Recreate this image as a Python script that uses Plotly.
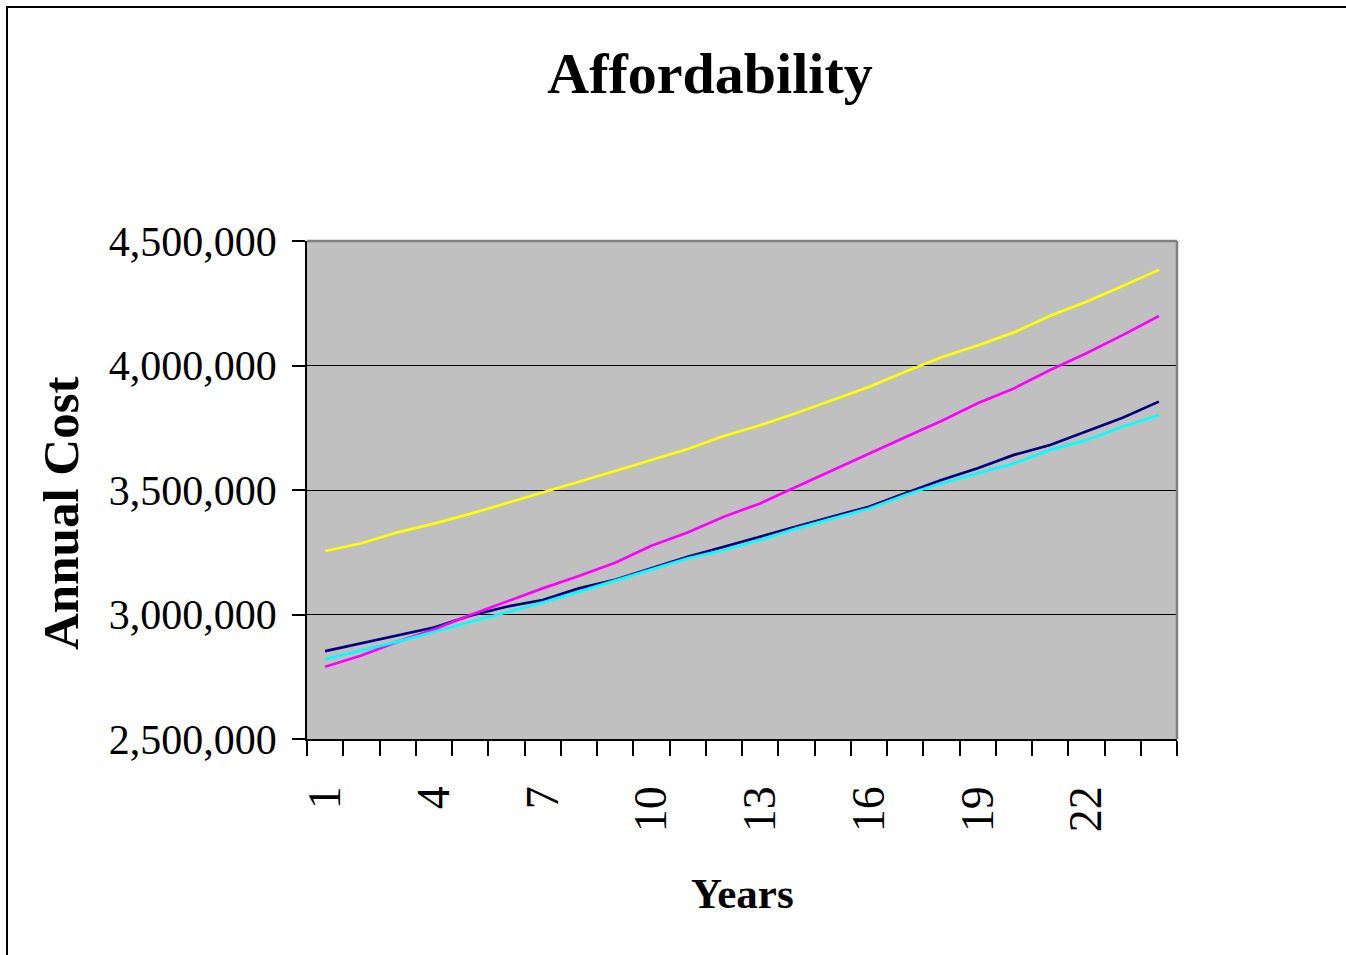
import plotly.graph_objects as go

years = [1, 2, 3, 4, 5, 6, 7, 8, 9, 10, 11, 12, 13, 14, 15, 16, 17, 18, 19, 20, 21, 22, 23, 24]
year_labels = [1, 4, 7, 10, 13, 16, 19, 22]

yellow_series = [3255000, 3286000, 3330000, 3365000, 3404000, 3446000, 3489000, 3533000,
                 3576000, 3620000, 3665000, 3717000, 3760000, 3809000, 3862000, 3914000,
                 3975000, 4033000, 4080000, 4133000, 4200000, 4256000, 4319000, 4384000]
magenta_series = [2790000, 2835000, 2891000, 2940000, 2998000, 3053000, 3105000, 3155000,
                  3208000, 3276000, 3329000, 3393000, 3446000, 3513000, 3580000, 3645000,
                  3712000, 3777000, 3848000, 3908000, 3982000, 4049000, 4122000, 4199000]
navy_series = [2853000, 2884000, 2917000, 2948000, 2995000, 3031000, 3058000, 3105000,
               3139000, 3186000, 3232000, 3272000, 3311000, 3353000, 3393000, 3433000,
               3487000, 3540000, 3587000, 3641000, 3681000, 3734000, 3790000, 3855000]
cyan_series = [2821000, 2857000, 2891000, 2931000, 2971000, 3011000, 3048000, 3092000,
               3136000, 3182000, 3226000, 3259000, 3300000, 3346000, 3386000, 3426000,
               3480000, 3527000, 3567000, 3607000, 3661000, 3701000, 3754000, 3801000]

y_ticks = [2500000, 3000000, 3500000, 4000000, 4500000]

FONT = "Liberation Serif, Times New Roman, serif"

fig = go.Figure()
for name, vals, col in [
    ("Series 1", navy_series, "#000080"),
    ("Series 2", magenta_series, "#FF00FF"),
    ("Series 3", yellow_series, "#FFFF00"),
    ("Series 4", cyan_series, "#00FFFF"),
]:
    fig.add_trace(go.Scatter(x=years, y=vals, mode="lines", name=name,
                             line=dict(color=col, width=2.7), showlegend=False))

W, H = 1346, 955
L, R, T, B = 307, 169, 241, 216
PW, PH = W - L - R, H - T - B

fig.update_layout(
    width=W, height=H,
    margin=dict(l=L, r=R, t=T, b=B, pad=0),
    paper_bgcolor="white",
    plot_bgcolor="#C0C0C0",
    font=dict(family=FONT, color="black"),
    title=dict(text="<b>Affordability</b>", x=(710 - L) / PW, xref="paper",
               xanchor="center", y=1 - 73 / H, yref="container", yanchor="middle",
               font=dict(family=FONT, size=58, color="black")),
    xaxis=dict(range=[0.5, 24.5], tickmode="array", tickvals=year_labels,
               ticktext=[str(v) for v in year_labels], ticks="", tickangle=-90,
               ticklabelstandoff=27,
               tickfont=dict(family=FONT, size=46, color="black"),
               showgrid=False, zeroline=False, showline=True, linecolor="black", linewidth=1.5,
               minor=dict(ticks="outside", tick0=0.5, dtick=1, ticklen=15, tickwidth=1.5,
                          tickcolor="black", showgrid=False)),
    yaxis=dict(range=[2500000, 4500000], tickmode="array", tickvals=y_ticks,
               tickformat=",d", ticks="outside", ticklen=13, tickwidth=1.5, tickcolor="black",
               ticklabelstandoff=7,
               tickfont=dict(family=FONT, size=42, color="black"),
               showgrid=True, gridcolor="black", gridwidth=1, zeroline=False,
               showline=True, linecolor="black", linewidth=1.5),
    shapes=[
        dict(type="line", xref="paper", yref="paper", x0=0, x1=1, y0=1, y1=1,
             line=dict(color="#808080", width=2.5), layer="above"),
        dict(type="line", xref="paper", yref="paper", x0=1, x1=1, y0=0, y1=1,
             line=dict(color="#808080", width=2.5), layer="above"),
        dict(type="rect", xref="paper", yref="paper",
             x0=(7 - L) / PW, x1=(W + 20 - L) / PW,
             y0=(H - B - (H + 20)) / PH, y1=(H - B - 7) / PH,
             line=dict(color="black", width=2), layer="above"),
    ],
    annotations=[
        dict(text="<b>Years</b>", xref="paper", yref="paper", x=(742 - L) / PW,
             y=(H - B - 893) / PH, xanchor="center", yanchor="middle",
             showarrow=False, font=dict(family=FONT, size=43, color="black")),
        dict(text="<b>Annual Cost</b>", xref="paper", yref="paper", x=(61 - L) / PW,
             y=(H - B - 513) / PH, xanchor="center", yanchor="middle",
             textangle=-90, showarrow=False, font=dict(family=FONT, size=51, color="black")),
    ],
)

fig.write_html("out.html", config={"displayModeBar": False},
               post_script="document.body.style.margin='0';document.body.style.overflow='hidden';")
